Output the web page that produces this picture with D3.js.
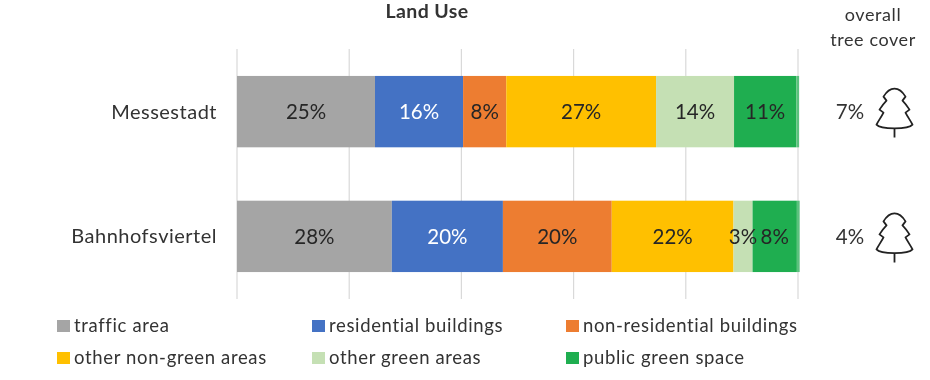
<!DOCTYPE html>
<html>
<head>
    <title>Land Use</title>
    <script src="https://cdn.jsdelivr.net/npm/d3@7"></script>
    <style>
        body { margin: 0; background: #fff; }
        svg { display: block; filter: blur(0.45px); }
        text { font-family: Lato, sans-serif; fill: #333; }
    </style>
</head>
<body>
    <div id="chart"></div>

    <script>
        const districts = ["Messestadt", "Bahnhofsviertel"];
        const categories = ["traffic area", "residential buildings", "non-residential buildings",
            "other non-green areas", "other green areas", "public green space", "other"];
        const messestadt = [24.6, 15.7, 7.7, 26.7, 13.9, 11.1, 0.5];
        const bahnhofsviertel = [27.6, 19.8, 19.4, 21.7, 3.4, 7.9, 0.5];
        const messestadtLabels = ["25%", "16%", "8%", "27%", "14%", "11%", ""];
        const bahnhofsviertelLabels = ["28%", "20%", "20%", "22%", "3%", "8%", ""];
        const treeCover = ["7%", "4%"];
        const colors = ["#a5a5a5", "#4472c4", "#ed7d31", "#ffc000", "#c5e0b4", "#1fae50", "#5cc17e"];
        const labelColors = ["#262626", "#fff", "#262626", "#262626", "#262626", "#262626", "#262626"];
        const ticks = [0, 20, 40, 60, 80, 100];

        const svg = d3.select("#chart").append("svg")
            .attr("width", 930)
            .attr("height", 380);

        const x = d3.scaleLinear().domain([0, 100]).range([237, 798]);
        const y = d3.scaleBand().domain(districts).range([49, 299]).paddingInner(0.428).paddingOuter(0.216);

        // gridlines
        svg.append("g").selectAll("line")
            .data(ticks)
            .join("line")
            .attr("x1", d => x(d))
            .attr("x2", d => x(d))
            .attr("y1", 49)
            .attr("y2", 299)
            .attr("stroke", "#d9d9d9")
            .attr("stroke-width", 1.2);

        const rows = [
            { name: districts[0], values: messestadt, labels: messestadtLabels },
            { name: districts[1], values: bahnhofsviertel, labels: bahnhofsviertelLabels }
        ];

        const row = svg.append("g").selectAll("g")
            .data(rows)
            .join("g");

        row.each(function(r) {
            const g = d3.select(this);
            const cum = d3.cumsum(r.values);
            const parts = r.values.map((v, i) => ({ start: cum[i] - v, end: cum[i], i: i, label: r.labels[i] }));

            g.selectAll("rect")
                .data(parts)
                .join("rect")
                .attr("x", d => x(d.start))
                .attr("width", d => x(d.end) - x(d.start))
                .attr("y", y(r.name))
                .attr("height", y.bandwidth())
                .attr("fill", d => colors[d.i]);

            g.selectAll("text.val")
                .data(parts)
                .join("text")
                .attr("class", "val")
                .attr("x", d => (x(d.start) + x(d.end)) / 2)
                .attr("y", y(r.name) + y.bandwidth() / 2)
                .attr("dy", "0.35em")
                .attr("text-anchor", "middle")
                .attr("font-size", 20.5)
                .style("fill", d => labelColors[d.i])
                .text(d => d.label);

            g.append("text")
                .attr("x", 217)
                .attr("y", y(r.name) + y.bandwidth() / 2)
                .attr("dy", "0.35em")
                .attr("text-anchor", "end")
                .attr("font-size", 20)
                .attr("letter-spacing", 0.5)
                .text(r.name);
        });

        svg.append("text")
            .attr("x", 427)
            .attr("y", 18)
            .attr("text-anchor", "middle")
            .attr("font-size", 19.5)
            .attr("font-weight", 700)
            .attr("letter-spacing", 0.4)
            .text("Land Use");

        svg.append("text").attr("x", 873).attr("y", 21).attr("text-anchor", "middle")
            .attr("font-size", 18).attr("letter-spacing", 0.6).text("overall");
        svg.append("text").attr("x", 873).attr("y", 46).attr("text-anchor", "middle")
            .attr("font-size", 18).attr("letter-spacing", 0.6).text("tree cover");

        // tree cover column
        const treePath = "M0,-23 C5,-23 8,-20 11,-15 L8,-11 C11,-8 13,-5 15,-2 L11,1 C13,5 16,9 18,13 C14,18 -14,18 -18,13 C-16,9 -13,5 -11,1 L-15,-2 C-13,-5 -11,-8 -8,-11 L-11,-15 C-8,-20 -5,-23 0,-23 Z M0,17 L0,26";
        districts.forEach((d, i) => {
            const cy = y(d) + y.bandwidth() / 2;
            svg.append("text")
                .attr("x", 850)
                .attr("y", cy)
                .attr("dy", "0.35em")
                .attr("text-anchor", "middle")
                .attr("font-size", 20.5)
                .text(treeCover[i]);
            svg.append("path")
                .attr("d", treePath)
                .attr("transform", "translate(894.5," + cy + ")")
                .attr("fill", "none")
                .attr("stroke", "#222")
                .attr("stroke-width", 1.8)
                .attr("stroke-linejoin", "round");
        });

        // legend
        const legendX = [57, 312, 566];
        const legendY = [326, 358];
        categories.slice(0, 6).forEach((c, i) => {
            const lx = legendX[i % 3];
            const ly = legendY[Math.floor(i / 3)];
            svg.append("rect")
                .attr("x", lx)
                .attr("y", ly - 6)
                .attr("width", 13)
                .attr("height", 12)
                .attr("fill", colors[i]);
            svg.append("text")
                .attr("x", lx + 17)
                .attr("y", ly)
                .attr("dy", "0.35em")
                .attr("font-size", 18.5)
                .attr("letter-spacing", 0.65)
                .text(c);
        });
    </script>
</body>
</html>
